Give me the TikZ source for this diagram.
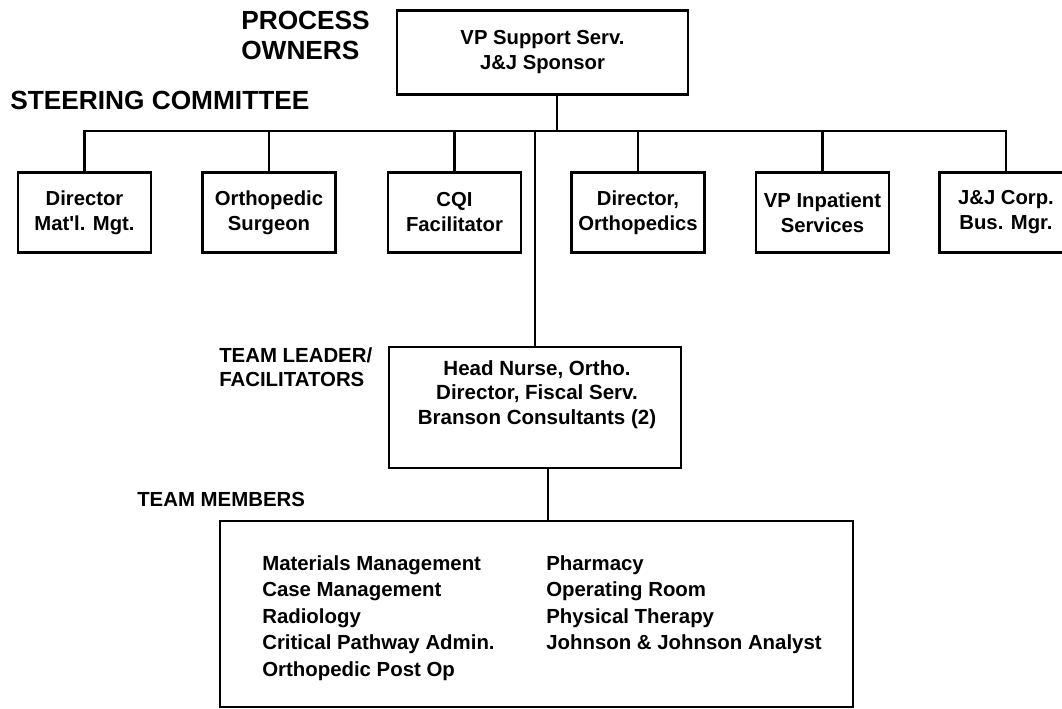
\documentclass[tikz,border=0pt]{standalone}
\usepackage{fontspec}
\setmainfont{Liberation Sans}
\begin{document}
\begin{tikzpicture}[x=0.75pt,y=-0.75pt,
  conn/.style={line width=1.7pt},
  boxtext/.style={font=\bfseries\fontsize{15.2pt}{18.75pt}\selectfont, align=center},
  sbox/.style={draw, line width=1.7pt, inner sep=0pt, boxtext,
    minimum width=133*0.75pt, minimum height=80*0.75pt},
  frame/.style={draw, line width=1.7pt, inner sep=0pt},
  head/.style={font=\bfseries\fontsize{19.7pt}{22.5pt}\selectfont, align=left, inner sep=0pt, anchor=north west},
  tlabel/.style={font=\bfseries\fontsize{15.3pt}{17.25pt}\selectfont, align=left, inner sep=0pt, anchor=north west},
  members/.style={font=\bfseries\fontsize{15.3pt}{19.9pt}\selectfont, align=left, inner sep=0pt, anchor=north west}]
\clip (0,0) rectangle (1062,709);
\fill[white] (0,0) rectangle (1062,709);

% headings
\node[head] (hpo) at (241,11) {PROCESS\\OWNERS};
\node[head] (hsc) at (10,91) {STEERING COMMITTEE};
\node[tlabel] (htl) at (219,347) {TEAM LEADER/\\[0.8pt]FACILITATORS};
\node[tlabel] (htm) at (137,492) {TEAM MEMBERS};

% sponsor
\node[sbox, minimum width=291*0.75pt, minimum height=84*0.75pt] (top) at (542.5,52.5) {VP Support Serv.\\J\&J Sponsor};

% steering committee
\node[sbox] (dmm) at (84.5,212.5) {Director\\Mat\textquotesingle l. Mgt.};
\node[sbox] (os)  at (269,212.5) {Orthopedic\\Surgeon};
\node[sbox] (cqi) at (454.5,212.5) {CQI\\Facilitator};
\node[sbox] (dor) at (638,212.5) {Director,\\Orthopedics};
\node[sbox] (vpi) at (822.5,212.5) {VP Inpatient\\Services};
\node[sbox] (jj)  at (1006,212.5) {J\&J Corp.\\Bus. Mgr.};

% team leader box
\node[frame, minimum width=292*0.75pt, minimum height=121*0.75pt] (lead) at (535,407.5) {};
\node[boxtext, font=\bfseries\fontsize{15.4pt}{18.4pt}\selectfont, inner sep=0pt] (leadtxt) at (537,394.5)
  {Head Nurse, Ortho.\\Director, Fiscal Serv.\\Branson Consultants (2)};

% team members box
\node[frame, minimum width=633*0.75pt, minimum height=186*0.75pt] (mem) at (536.5,614) {};
\node[members] (memL) at (262,555) {Materials Management\\Case Management\\Radiology\\Critical Pathway Admin.\\Orthopedic Post Op};
\node[members] (memR) at (546,555) {Pharmacy\\Operating Room\\Physical Therapy\\Johnson \& Johnson Analyst};

% connectors
\coordinate (busy) at (0,131);
\coordinate (stem) at (557,0);
\coordinate (mstem) at (548,0);
\draw[conn] (dmm.north) |- (jj.north |- busy) -- (jj.north);
\foreach \n in {os,cqi,dor,vpi} \draw[conn] (\n.north) -- (\n.north |- busy);
\draw[conn] (top.south -| stem) -- (stem |- busy);
\draw[conn] (lead.north) -- (lead.north |- busy);
\draw[conn] (lead.south -| mstem) -- (mem.north -| mstem);
\end{tikzpicture}
\end{document}
